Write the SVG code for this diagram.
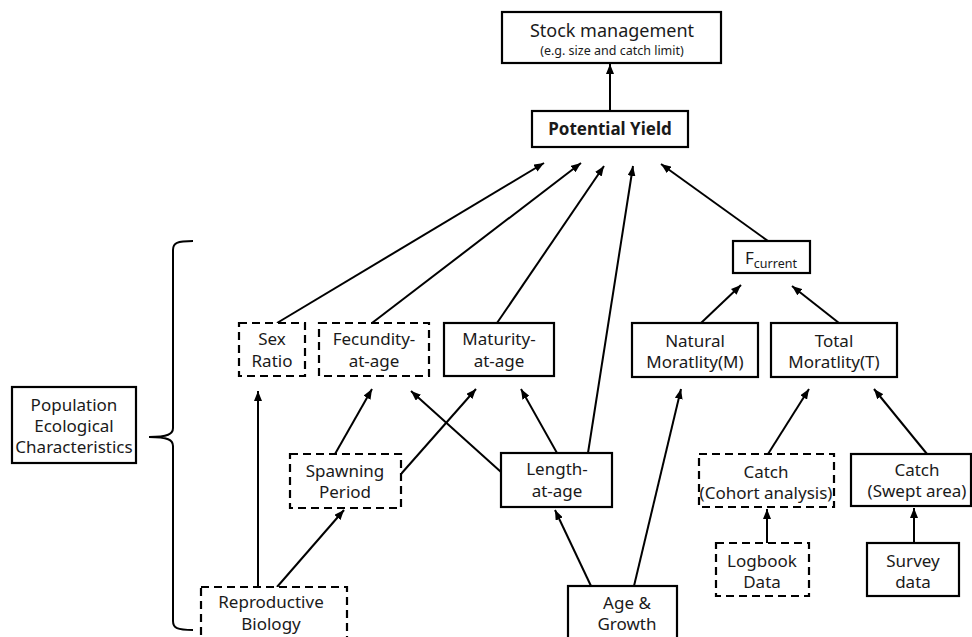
<svg xmlns="http://www.w3.org/2000/svg" width="972" height="637" viewBox="0 0 972 637">
<defs>
<style>
.box{fill:#fff;stroke:#000;stroke-width:2.2}
.dash{fill:#fff;stroke:#000;stroke-width:2.2;stroke-dasharray:8 5}
.t{font-family:"Noto Sans","Open Sans","Liberation Sans",sans-serif;font-size:17px;fill:#1a1a1a;text-anchor:middle}
.s{font-size:12.5px}
.b{font-weight:bold}
.c{stroke:#000;stroke-width:2;fill:none;marker-end:url(#ah)}
.n{stroke:#000;stroke-width:2;fill:none}
</style>
<marker id="ah" viewBox="0 0 10 8" refX="10" refY="4" markerWidth="10" markerHeight="8" markerUnits="userSpaceOnUse" orient="auto">
<path d="M0,0 L10,4 L0,8 Z" fill="#000"/>
</marker>
</defs>
<rect width="972" height="637" fill="#fff"/>
<g id="connectors">
<line class="c" x1="610" y1="111" x2="610" y2="64"/>
<line class="c" x1="277" y1="323" x2="544" y2="163"/>
<line class="c" x1="372" y1="323" x2="581" y2="163"/>
<line class="c" x1="497" y1="323" x2="604" y2="166"/>
<line class="c" x1="588" y1="453" x2="633" y2="166"/>
<line class="c" x1="768" y1="241" x2="661" y2="164"/>
<line class="c" x1="701" y1="323" x2="741" y2="285"/>
<line class="c" x1="839" y1="323" x2="792" y2="286"/>
<line class="c" x1="768" y1="454" x2="809" y2="389"/>
<line class="c" x1="927" y1="454" x2="874" y2="389"/>
<line class="c" x1="767" y1="543" x2="767" y2="509"/>
<line class="c" x1="914" y1="543" x2="914" y2="508"/>
<line class="c" x1="591" y1="586" x2="555" y2="510"/>
<line class="c" x1="634" y1="586" x2="681" y2="389"/>
<line class="c" x1="501" y1="472" x2="411" y2="391"/>
<line class="c" x1="557" y1="453" x2="521" y2="389"/>
<line class="c" x1="335" y1="454" x2="372" y2="389"/>
<line class="c" x1="401" y1="474" x2="476" y2="389"/>
<line class="c" x1="258" y1="587" x2="258" y2="391"/>
<line class="c" x1="277" y1="587" x2="344" y2="510"/>
<path class="n" d="M193,241 C177,241 173,243 173,250 L173,428 C173,434 168,437 149,437 C168,437 173,440 173,446 L173,621 C173,628 177,630 193,630"/>
</g>
<g id="stock"><rect class="box" x="502" y="12" width="219" height="51"/>
<text class="t" x="612" y="37" style="font-size:18px">Stock management</text>
<text class="t s" x="612" y="55">(e.g. size and catch limit)</text></g>
<g id="yield"><rect class="box" x="532" y="111" width="156" height="36"/>
<text class="t b" x="610" y="135">Potential Yield</text></g>
<g id="fcur"><rect class="box" x="733" y="241" width="77" height="32"/>
<text class="t" x="771" y="264"><tspan>F</tspan><tspan class="s" dy="4">current</tspan></text></g>
<g id="sex"><rect class="dash" x="239" y="323" width="66" height="53"/>
<text class="t" x="272" y="345">Sex</text><text class="t" x="272" y="367">Ratio</text></g>
<g id="fec"><rect class="dash" x="319" y="323" width="110" height="53"/>
<text class="t" x="374" y="345">Fecundity-</text><text class="t" x="374" y="367">at-age</text></g>
<g id="mat"><rect class="box" x="444" y="323" width="110" height="53"/>
<text class="t" x="499" y="345">Maturity-</text><text class="t" x="499" y="367">at-age</text></g>
<g id="nat"><rect class="box" x="632" y="323" width="126" height="54"/>
<text class="t" x="695" y="347">Natural</text><text class="t" x="695" y="368">Moratlity(M)</text></g>
<g id="tot"><rect class="box" x="771" y="323" width="126" height="54"/>
<text class="t" x="834" y="347">Total</text><text class="t" x="834" y="368">Moratlity(T)</text></g>
<g id="pop"><rect class="box" x="12" y="387" width="124" height="76"/>
<text class="t" x="74" y="411">Population</text><text class="t" x="74" y="432">Ecological</text><text class="t" x="74" y="453">Characteristics</text></g>
<g id="spawn"><rect class="dash" x="290" y="454" width="111" height="54"/>
<text class="t" x="345" y="477">Spawning</text><text class="t" x="345" y="498">Period</text></g>
<g id="len"><rect class="box" x="501" y="453" width="111" height="54"/>
<text class="t" x="557" y="475">Length-</text><text class="t" x="557" y="497">at-age</text></g>
<g id="cohort"><rect class="dash" x="699" y="454" width="135" height="53"/>
<text class="t" x="766" y="478">Catch</text><text class="t" x="766" y="499">(Cohort analysis)</text></g>
<g id="swept"><rect class="box" x="851" y="454" width="120" height="52"/>
<text class="t" x="917" y="476">Catch</text><text class="t" x="917" y="497">(Swept area)</text></g>
<g id="log"><rect class="dash" x="716" y="543" width="93" height="53"/>
<text class="t" x="762" y="567">Logbook</text><text class="t" x="762" y="588">Data</text></g>
<g id="survey"><rect class="box" x="867" y="543" width="92" height="53"/>
<text class="t" x="913" y="567">Survey</text><text class="t" x="913" y="588">data</text></g>
<g id="age"><rect class="box" x="568" y="586" width="109" height="60"/>
<text class="t" x="627" y="609">Age &amp;</text><text class="t" x="627" y="630">Growth</text></g>
<g id="repro"><rect class="dash" x="201" y="587" width="146" height="60"/>
<text class="t" x="271" y="608">Reproductive</text><text class="t" x="271" y="630">Biology</text></g>
</svg>
